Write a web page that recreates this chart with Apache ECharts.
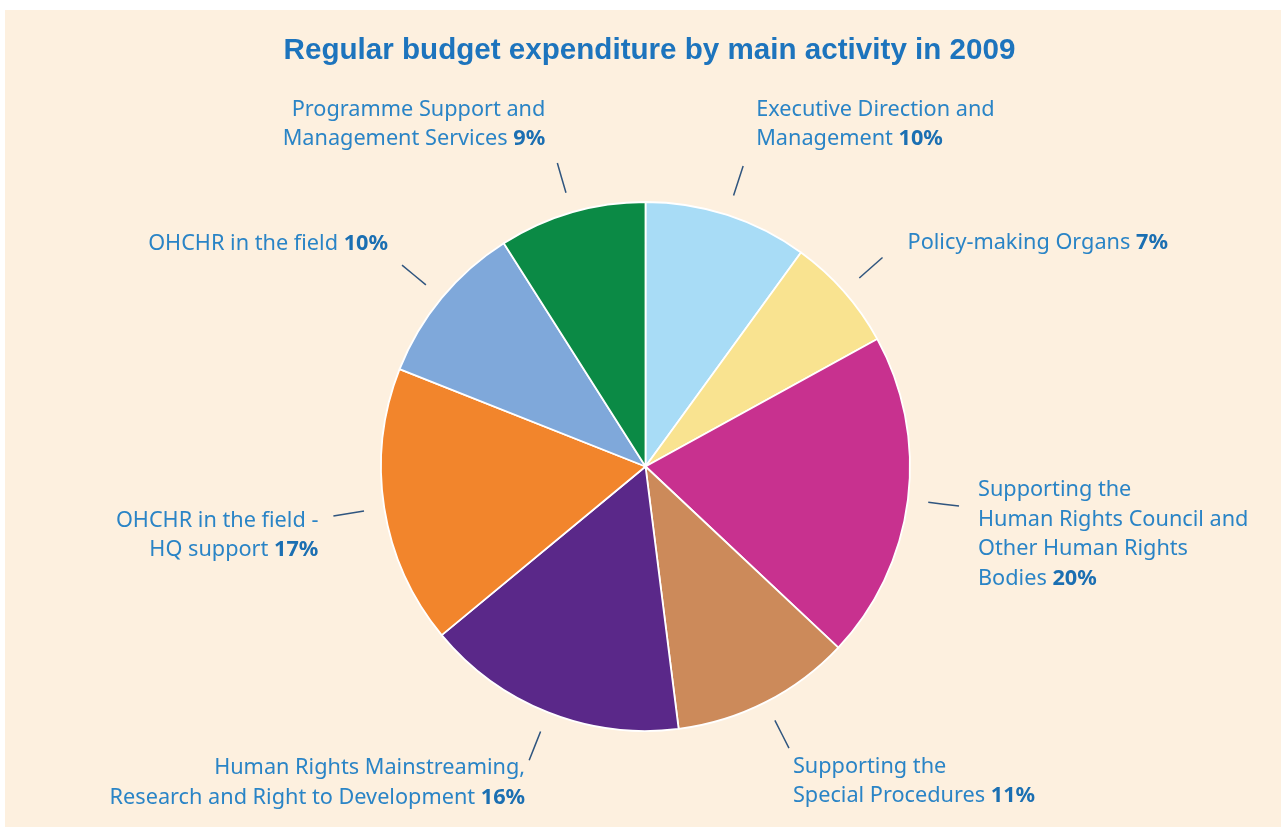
<!DOCTYPE html>
<html>
<head>
<meta charset="utf-8">
<script src="https://cdn.jsdelivr.net/npm/echarts@6/dist/echarts.min.js"></script>
<style>
  html, body { margin: 0; padding: 0; background: #ffffff; width: 1281px; height: 827px; overflow: hidden; }
  #chart { position: absolute; left: 5px; top: 10px; width: 1276px; height: 817px; background: #fdf0df; }
</style>
</head>
<body>
<div id="chart"></div>
<script>
// ---- data ----
const titleText = 'Regular budget expenditure by main activity in 2009';
const categories = [
  'Executive Direction and\nManagement',
  'Policy-making Organs',
  'Supporting the\nHuman Rights Council and\nOther Human Rights\nBodies',
  'Supporting the\nSpecial Procedures',
  'Human Rights Mainstreaming,\nResearch and Right to Development',
  'OHCHR in the field -\nHQ support',
  'OHCHR in the field',
  'Programme Support and\nManagement Services'
];
const values = [10, 7, 20, 11, 16, 17, 10, 9];
const colors = ['#a8dcf6', '#f9e390', '#c8318f', '#cc8a5a', '#5a2889', '#f2852c', '#7fa8da', '#0b8a45'];

// ---- label layout (offset of label from outer end of its leader line) ----
const labelPlacement = [
  { align: 'left',  dx: 13,  dy: -71 },
  { align: 'left',  dx: 25,  dy: -29 },
  { align: 'left',  dx: 19,  dy: -31 },
  { align: 'left',  dx: 4,   dy: 4 },
  { align: 'right', dx: -4,  dy: -7 },
  { align: 'right', dx: -15, dy: -10 },
  { align: 'right', dx: -14, dy: -36 },
  { align: 'right', dx: -12, dy: -68 }
];

const CX = 640.5, CY = 456.5, R = 264.5;
const R_IN = 285, R_OUT = 316;
const total = values.reduce((a, b) => a + b, 0);
const midAngles = [];
{
  let acc = 0;
  values.forEach(v => { midAngles.push((acc + v / 2) / total * 2 * Math.PI); acc += v; });
}
function pt(theta, r) { return [CX + r * Math.sin(theta), CY - r * Math.cos(theta)]; }

const chart = echarts.init(document.getElementById('chart'), null, { renderer: 'canvas' });
const FONT = '"Noto Sans", "Open Sans", sans-serif';

chart.setOption({
  backgroundColor: 'transparent',
  animation: false,
  title: {
    text: titleText,
    left: 644.5,
    textAlign: 'center',
    top: 25,
    padding: 0,
    textStyle: { fontFamily: '"Liberation Sans", Arial, sans-serif', fontWeight: 'bold', fontSize: 29.6, color: '#1d74bd', lineHeight: 32 }
  },
  series: [{
    type: 'pie',
    center: [CX, CY],
    radius: R,
    startAngle: 90,
    clockwise: true,
    avoidLabelOverlap: false,
    silent: true,
    data: categories.map((c, i) => ({ name: c, value: values[i], itemStyle: { color: colors[i] } })),
    itemStyle: { borderColor: '#ffffff', borderWidth: 1.8 },
    label: {
      show: true,
      position: 'outside',
      formatter: p => {
        const lines = p.name.split('\n');
        return lines.map((l, k) => k === lines.length - 1
          ? '{n|' + l + ' }{b|' + p.value + '%}'
          : '{n|' + l + '}').join('\n');
      },
      rich: {
        n: { fontFamily: FONT, fontSize: 21.7, color: '#2a84c6', lineHeight: 29.5 },
        b: { fontFamily: FONT, fontSize: 21.7, fontWeight: 'bold', color: '#1b6fb2', lineHeight: 29.5 }
      }
    },
    labelLine: { show: true, length: 20, length2: 0, lineStyle: { color: '#2f557f', width: 1.5 } },
    labelLayout: params => {
      const i = params.dataIndex;
      const th = midAngles[i];
      const p1 = pt(th, R_IN), p2 = pt(th, R_OUT);
      const lp = labelPlacement[i];
      return {
        x: p2[0] + lp.dx,
        y: p2[1] + lp.dy,
        align: lp.align,
        verticalAlign: 'top',
        labelLinePoints: [p1, [(p1[0] + p2[0]) / 2, (p1[1] + p2[1]) / 2], p2]
      };
    }
  }]
});
</script>
</body>
</html>
